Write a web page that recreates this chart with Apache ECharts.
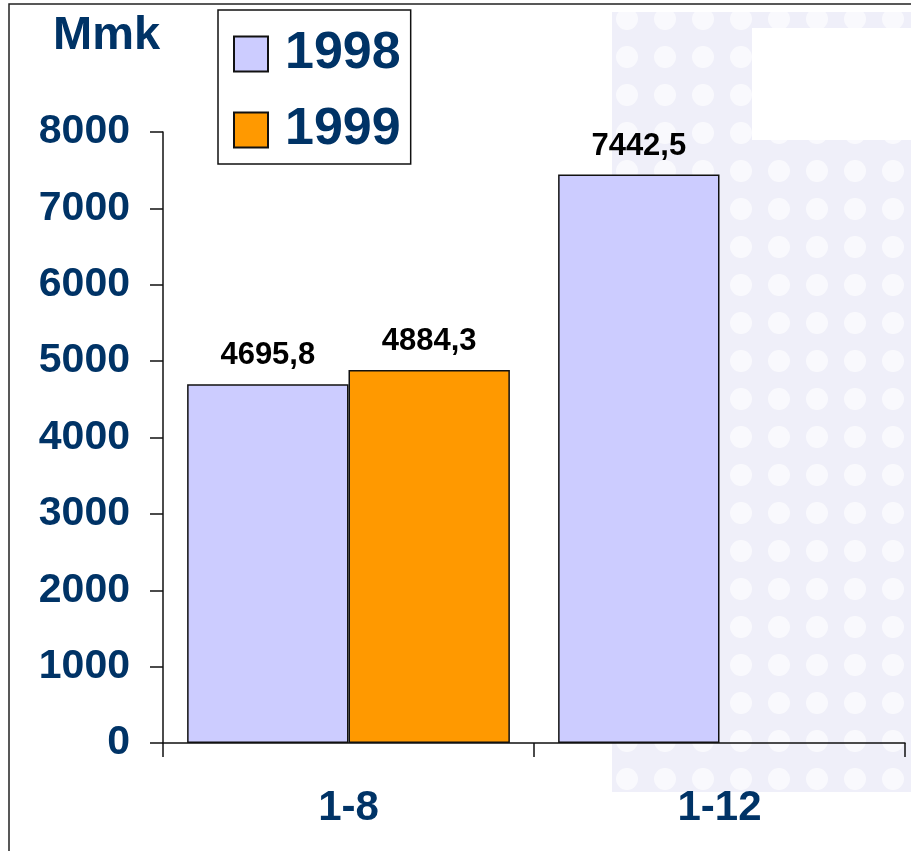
<!DOCTYPE html>
<html>
<head>
<meta charset="utf-8">
<script src="https://cdn.jsdelivr.net/npm/echarts@6/dist/echarts.min.js"></script>
<style>
  html, body { margin: 0; padding: 0; background: #fff; }
  #chart { width: 911px; height: 851px; }
</style>
</head>
<body>
<div id="chart"></div>
<script>
// 数据
var categories = ["1-8", "1-12"];
var values1998 = [4695.8, 7442.5];
var values1999 = [4884.3, null];
var yTicks = [0, 1000, 2000, 3000, 4000, 5000, 6000, 7000, 8000];

var navy = "#003366";

function fmt(v) {
  // 小数点用逗号
  return String(v.toFixed(1)).replace(".", ",");
}

// 背景水印用的小圆点图案
function makeTile() {
  var c = document.createElement("canvas");
  c.width = 38;
  c.height = 38;
  var ctx = c.getContext("2d");
  ctx.fillStyle = "#efeff9";
  ctx.fillRect(0, 0, 38, 38);
  ctx.fillStyle = "#f9f9fd";
  ctx.beginPath();
  ctx.arc(19, 19, 11, 0, Math.PI * 2);
  ctx.fill();
  return c;
}
var tile = makeTile();

var myChart = echarts.init(document.getElementById("chart"));
var option = {
  backgroundColor: "#fff",
  animation: false,
  title: {
    text: "Mmk",
    left: 48,
    top: 8,
    textStyle: { fontFamily: "Liberation Sans", fontWeight: "bold", fontSize: 47, color: navy },
  },
  legend: {
    orient: "vertical",
    left: 218,
    top: 10,
    padding: [16, 10, 6, 15],
    itemGap: 20,
    itemWidth: 34,
    itemHeight: 35,
    borderColor: "#111",
    borderWidth: 1.5,
    icon: "rect",
    data: ["1998", "1999"],
    textStyle: {
      fontFamily: "Liberation Sans",
      fontWeight: "bold",
      fontSize: 52,
      lineHeight: 56,
      color: navy,
      padding: [0, 0, 0, 12],
    },
  },
  grid: { left: 163, right: 6, top: 132, bottom: 108 },
  xAxis: {
    type: "category",
    data: categories,
    axisLine: { lineStyle: { color: "#111", width: 1.5 } },
    axisTick: { show: true, length: 14, lineStyle: { color: "#111", width: 1.5 } },
    axisLabel: {
      margin: 44,
      fontFamily: "Liberation Sans",
      fontWeight: "bold",
      fontSize: 42,
      color: navy,
    },
  },
  yAxis: {
    type: "value",
    min: yTicks[0],
    max: yTicks[yTicks.length - 1],
    interval: 1000,
    splitLine: { show: false },
    axisLine: { show: true, lineStyle: { color: "#111", width: 1.5 } },
    axisTick: { show: true, length: 13, lineStyle: { color: "#111", width: 1.5 } },
    axisLabel: {
      margin: 33,
      fontFamily: "Liberation Sans",
      fontWeight: "bold",
      fontSize: 41,
      color: navy,
      formatter: function (v) { return String(v); },
    },
  },
  graphic: [
    // 背景水印
    { type: "rect", z: -10, silent: true, shape: { x: 612, y: 12, width: 300, height: 780 }, style: { fill: { image: tile, repeat: "repeat" } } },
    { type: "rect", z: -9, silent: true, shape: { x: 752, y: 28, width: 160, height: 112 }, style: { fill: "#ffffff" } },
    // 外框
    { type: "rect", z: 10, silent: true, shape: { x: 9, y: 4, width: 1000, height: 1000 }, style: { fill: "none", stroke: "#222", lineWidth: 1.5 } },
  ],
  series: [
    {
      name: "1998",
      type: "bar",
      data: values1998,
      barGap: "0%",
      barCategoryGap: "13%",
      itemStyle: { color: "#ccccff", borderColor: "#111", borderWidth: 1.5 },
      label: {
        show: true,
        position: "top",
        distance: 13,
        fontFamily: "Liberation Sans",
        fontWeight: "bold",
        fontSize: 31,
        color: "#000",
        formatter: function (p) { return fmt(p.value); },
      },
    },
    {
      name: "1999",
      type: "bar",
      data: values1999,
      itemStyle: { color: "#ff9900", borderColor: "#111", borderWidth: 1.5 },
      label: {
        show: true,
        position: "top",
        distance: 13,
        fontFamily: "Liberation Sans",
        fontWeight: "bold",
        fontSize: 31,
        color: "#000",
        formatter: function (p) { return fmt(p.value); },
      },
    },
  ],
};
myChart.setOption(option);
</script>
</body>
</html>
